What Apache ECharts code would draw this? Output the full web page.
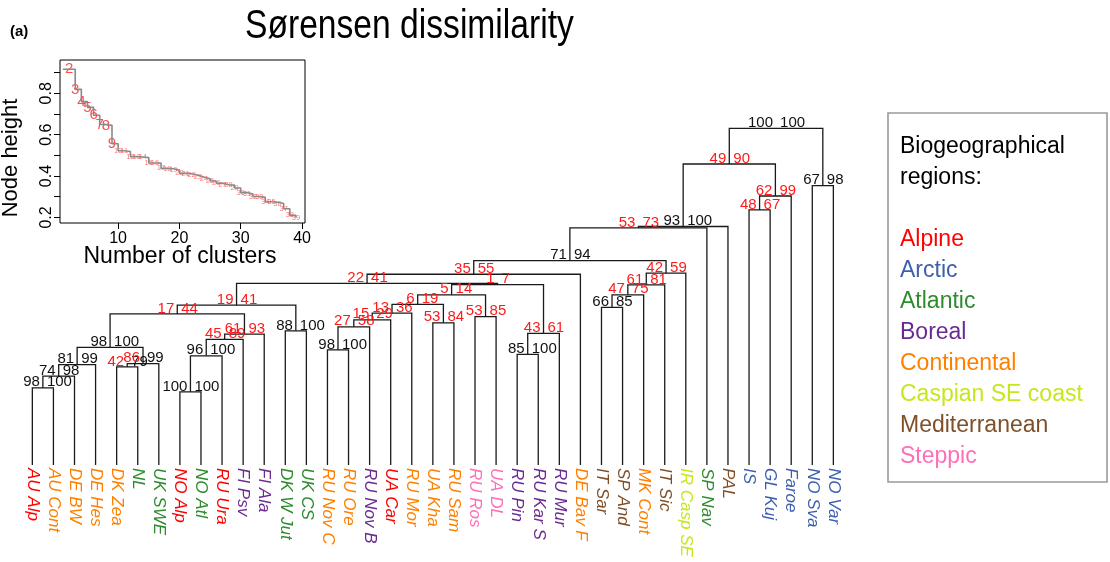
<!DOCTYPE html>
<html><head><meta charset="utf-8">
<script src="https://cdn.jsdelivr.net/npm/echarts@6/dist/echarts.min.js"></script>
<style>html,body{margin:0;padding:0;background:#fff}#c{width:1110px;height:562px}</style>
</head><body><div id="c"></div>
<script>
// ---- leaves (left to right) ----
const leafNames = ['AU Alp','AU Cont','DE BW','DE Hes','DK Zea','NL','UK SWE','NO Alp','NO Atl','RU Ura',
  'FI Psv','FI Ala','DK W Jut','UK CS','RU Nov C','RU Ore','RU Nov B','UA Car','RU Mor','UA Kha',
  'RU Sam','RU Ros','UA DL','RU Pin','RU Kar S','RU Mur','DE Bav F','IT Sar','SP And','MK Cont',
  'IT Sic','IR Casp SE','SP Nav','PAL','IS','GL Kuj','Faroe','NO Sva','NO Var'];
const leafRegions = ['Alpine','Continental','Continental','Continental','Continental','Atlantic','Atlantic','Alpine','Atlantic','Alpine',
  'Boreal','Boreal','Atlantic','Atlantic','Continental','Continental','Boreal','Alpine','Continental','Continental',
  'Continental','Steppic','Steppic','Boreal','Boreal','Boreal','Continental','Mediterranean','Mediterranean','Continental',
  'Mediterranean','Caspian SE coast','Atlantic','Mediterranean','Arctic','Arctic','Arctic','Arctic','Arctic'];
const regionNames = ['Alpine','Arctic','Atlantic','Boreal','Continental','Caspian SE coast','Mediterranean','Steppic'];
const regionColors = ['#ff0000','#3d5fae','#2e8b2e','#6a2a90','#ff8000','#c8e61e','#7f4f28','#ff6eb8'];

// ---- merges (hclust convention: negative = leaf number, positive = earlier merge) ----
const mergeA = [-1,1,2,-5,4,3,-8,7,8,9,6,-13,11,-15,14,15,16,-20,17,-22,19,-24,22,21,13,25,-28,27,28,29,26,31,32,-35,34,33,-38,36];
const mergeB = [-2,-3,-4,-6,-7,5,-9,-10,-11,-12,10,-14,12,-16,-17,-18,-19,-21,18,-23,20,-25,-26,23,24,-27,-29,-30,-31,-32,30,-33,-34,-36,-37,35,-39,37];
const mergeHeights = [0.210,0.242,0.273,0.267,0.276,0.320,0.199,0.297,0.342,0.356,0.411,0.365,0.435,0.313,0.376,0.395,0.413,0.387,0.437,0.404,0.463,0.301,0.358,0.491,0.494,0.519,0.429,0.463,0.490,0.522,0.556,0.645,0.649,0.694,0.732,0.819,0.760,0.916];
const labelLeft  = [98,74,81,42,86,98,100,96,45,61,17,88,19,98,27,15,13,53,6,53,5,85,43,1,22,35,66,47,61,42,71,53,93,48,62,49,67,100];
const labelRight = [100,98,99,79,99,100,100,100,89,93,44,100,41,100,58,29,36,84,19,85,14,100,61,7,41,55,85,75,81,59,94,73,100,67,99,90,98,100];
const leftRed  = [0,0,0,1,1,0,0,0,1,1,1,0,1,0,1,1,1,1,1,1,1,0,1,1,1,1,0,1,1,1,0,1,0,1,1,1,0,0];
const rightRed = [0,0,0,0,0,0,0,0,1,1,1,0,1,0,1,1,1,1,1,1,1,0,1,1,1,1,0,1,1,1,0,1,0,1,1,1,0,0];

// ---- inset: node height by number of clusters ----
const insetClusters = [1,2,3,4,5,6,7,8,9,10,11,12,13,14,15,16,17,18,19,20,21,22,23,24,25,26,27,28,29,30,31,32,33,34,35,36,37,38,39];
const insetHeights = [0.916,0.916,0.819,0.760,0.732,0.694,0.649,0.645,0.556,0.522,0.519,0.494,0.492,0.490,0.463,0.463,0.437,0.435,0.429,0.413,0.411,0.404,0.395,0.387,0.376,0.365,0.358,0.356,0.342,0.320,0.313,0.301,0.297,0.276,0.273,0.267,0.242,0.210,0.199];
const insetXTicks = [10,20,30,40];
const insetYTicks = [0.2,0.3,0.4,0.5,0.6,0.7,0.8,0.9];
const insetYLabels = [0.2,0.4,0.6,0.8];

const FONT = '"Liberation Sans", Arial, sans-serif';
const RED = '#ff1a1a', BLACK = '#111';

// build segment data from the merge table
const nodeX = [];
const dendroData = [];
function childPos(c) { return c < 0 ? [-c - 1, 0] : [nodeX[c - 1], mergeHeights[c - 1]]; }
for (let i = 0; i < mergeA.length; i++) {
  const L = childPos(mergeA[i]), R = childPos(mergeB[i]);
  nodeX.push((L[0] + R[0]) / 2);
  dendroData.push([L[0], L[1], R[0], R[1], mergeHeights[i]]);
}

function renderDendro(params, api) {
  const i = params.dataIndex;
  const xl = api.value(0), hl = api.value(1), xr = api.value(2), hr = api.value(3), h = api.value(4);
  const a = api.coord([xl, hl]), b = api.coord([xl, h]), c = api.coord([xr, h]), d = api.coord([xr, hr]);
  const m = api.coord([(xl + xr) / 2, h]);
  return { type: 'group', children: [
    { type: 'polyline', shape: { points: [a, b, c, d] }, style: { stroke: '#1a1a1a', lineWidth: 1.3, fill: null } },
    { type: 'text', z2: 10, style: { text: String(labelLeft[i]), x: m[0] - 3, y: m[1] + 2, align: 'right', verticalAlign: 'bottom',
        fill: leftRed[i] ? RED : BLACK, font: '15px ' + FONT } },
    { type: 'text', z2: 10, style: { text: String(labelRight[i]), x: m[0] + 4, y: m[1] + 2, align: 'left', verticalAlign: 'bottom',
        fill: rightRed[i] ? RED : BLACK, font: '15px ' + FONT } }
  ]};
}

const insetLine = insetClusters.map((k, i) => [k, insetHeights[i]]);
const insetLabels = insetClusters.slice(1).map((k, i) => ({
  value: [k, insetHeights[i + 1]],
  label: { fontSize: k < 10 ? 15 : 7.5, color: k < 10 ? '#ff2222' : 'rgba(255,40,40,0.8)' }
}));

const chart = echarts.init(document.getElementById('c'), null, { renderer: 'canvas' });
const legendChildren = [
  { type: 'rect', shape: { x: 888, y: 113, width: 219, height: 369 }, style: { fill: 'none', stroke: '#9a9a9a', lineWidth: 1.6 } },
  { type: 'text', style: { text: 'Biogeographical', x: 900, y: 147, verticalAlign: 'middle', font: '23px ' + FONT, fill: '#000' } },
  { type: 'text', style: { text: 'regions:', x: 900, y: 178, verticalAlign: 'middle', font: '23px ' + FONT, fill: '#000' } }
];
regionNames.forEach((r, i) => {
  legendChildren.push({ type: 'text', style: { text: r, x: 900, y: 240 + i * 30.9, verticalAlign: 'middle', font: '23px ' + FONT, fill: regionColors[i] } });
});

chart.setOption({
  animation: false,
  backgroundColor: '#fff',
  grid: [
    { left: 21.8, right: 266.1, top: 97.5, bottom: 97 },
    { left: 60, top: 60, width: 245, height: 163, show: true, borderColor: '#000', borderWidth: 1, backgroundColor: 'transparent' }
  ],
  xAxis: [
    { type: 'category', gridIndex: 0, data: leafNames, boundaryGap: true, position: 'bottom',
      axisLine: { show: false }, axisTick: { show: false }, splitLine: { show: false },
      axisLabel: { interval: 0, rotate: -90, margin: 3, fontSize: 17, fontFamily: FONT, fontStyle: 'italic', hideOverlap: false,
        color: (v, idx) => regionColors[regionNames.indexOf(leafRegions[idx])] } },
    { type: 'value', gridIndex: 0, min: -0.5, max: 38.5, show: false },
    { type: 'value', gridIndex: 1, min: 0.52, max: 40.48, splitLine: { show: false },
      axisLine: { show: false },
      axisTick: { show: true, inside: false, length: 6, customValues: insetXTicks, lineStyle: { color: '#000' } },
      axisLabel: { customValues: insetXTicks, fontSize: 16, fontFamily: FONT, color: '#000', margin: 8 } }
  ],
  yAxis: [
    { type: 'value', gridIndex: 0, min: 0, max: 1, show: false },
    { type: 'value', gridIndex: 1, min: 0.173, max: 0.961, splitLine: { show: false },
      axisLine: { show: false },
      axisTick: { show: true, inside: false, length: 6, customValues: insetYTicks, lineStyle: { color: '#000' } },
      axisLabel: { customValues: insetYLabels, rotate: 90, fontSize: 16, fontFamily: FONT, color: '#000', margin: 5,
        formatter: v => Number(v).toFixed(1) } }
  ],
  series: [
    { type: 'custom', xAxisIndex: 1, yAxisIndex: 0, data: dendroData, renderItem: renderDendro,
      encode: { x: [0, 2], y: [1, 3, 4] }, clip: false, silent: true },
    { type: 'line', xAxisIndex: 2, yAxisIndex: 1, data: insetLine, step: 'end', showSymbol: false, symbol: 'none',
      lineStyle: { color: '#8a8a8a', width: 1.6 }, silent: true },
    { type: 'scatter', xAxisIndex: 2, yAxisIndex: 1, data: insetLabels, symbolSize: 0, silent: true,
      label: { show: true, position: 'inside', formatter: p => String(p.value[0]), fontFamily: FONT } }
  ],
  graphic: [
    { type: 'text', style: { text: '(a)', x: 10, y: 32, verticalAlign: 'middle', font: 'bold 15px ' + FONT, fill: '#000' } },
    { type: 'text', x: 245, y: 27, scaleX: 0.82, scaleY: 1,
      style: { text: 'Sørensen dissimilarity', x: 0, y: 0, verticalAlign: 'middle', font: '41px ' + FONT, fill: '#000' } },
    { type: 'text', style: { text: 'Number of clusters', x: 180, y: 257, align: 'center', verticalAlign: 'middle', font: '23px ' + FONT, fill: '#000' } },
    { type: 'text', rotation: Math.PI / 2, x: 11, y: 158, style: { text: 'Node height', x: 0, y: 0, align: 'center', verticalAlign: 'middle', font: '22px ' + FONT, fill: '#000' } },
    { type: 'group', children: legendChildren }
  ]
});
</script>
</body></html>
